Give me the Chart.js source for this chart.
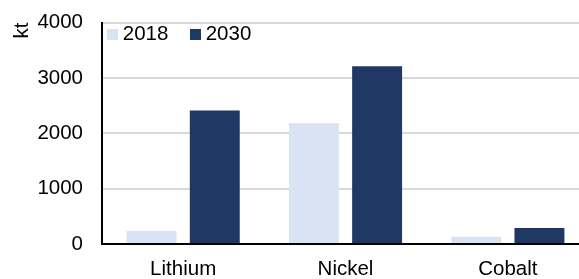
<!DOCTYPE html>
<html><head><meta charset="utf-8">
<script src="https://cdn.jsdelivr.net/npm/chart.js@4/dist/chart.umd.min.js"></script>
<style>html,body{margin:0;padding:0;overflow:hidden;background:#fff;width:579px;height:279px}</style>
</head><body>
<canvas id="c" width="589" height="279" style="display:block;width:589px;height:279px"></canvas>
<script>
const categories = ['Lithium', 'Nickel', 'Cobalt'];
const seriesNames = ['2018', '2030'];
const values2018 = [240, 2180, 130];
const values2030 = [2410, 3210, 290];
const yTicks = [0, 1000, 2000, 3000, 4000];
const yTitle = 'kt';
const colors = ['#dae3f3', '#203864'];

const FONT = "'Liberation Sans', Arial, sans-serif";
const FS = 20.5;

function makeBox(color) {
  const c = document.createElement('canvas');
  c.width = 11; c.height = 11;
  const x = c.getContext('2d');
  x.fillStyle = color; x.fillRect(0, 0, 11, 11);
  return c;
}
const markers = colors.map(makeBox);

const legendPlace = {
  id: 'legendPlace',
  afterLayout(chart) {
    const l = chart.legend;
    if (!l) return;
    const ca = chart.chartArea;
    l.left = ca.left - 16.6;
    l.right = ca.right;
    l.width = l.right - l.left;
    l.top = -3.25;
    l.height = 70;
    l.bottom = l.top + l.height;
  }
};

new Chart(document.getElementById('c'), {
  type: 'bar',
  data: {
    labels: categories,
    datasets: [
      { label: seriesNames[0], data: values2018, backgroundColor: colors[0] },
      { label: seriesNames[1], data: values2030, backgroundColor: colors[1] }
    ]
  },
  plugins: [legendPlace],
  options: {
    responsive: false,
    animation: false,
    devicePixelRatio: 1,
    categoryPercentage: 0.779,
    barPercentage: 0.79,
    layout: { padding: { top: 21.5, right: 0, bottom: 0, left: 0 } },
    plugins: {
      tooltip: { enabled: false },
      legend: {
        position: 'top',
        align: 'start',
        fullSize: false,
        maxHeight: 1,
        labels: {
          usePointStyle: true,
          pointStyleWidth: 0.1,
          padding: 27,
          color: '#000',
          font: { family: FONT, size: FS },
          generateLabels(chart) {
            const items = Chart.defaults.plugins.legend.labels.generateLabels(chart);
            items.forEach((it, i) => { it.pointStyle = markers[i]; });
            return items;
          }
        }
      }
    },
    scales: {
      x: {
        grid: { display: false, drawTicks: false },
        border: { display: true, color: '#000', width: 2 },
        ticks: { color: '#000', font: { family: FONT, size: FS }, padding: 13.5, maxRotation: 0 },
        afterFit(s) { s.height = 35; s.paddingLeft = 0; s.paddingRight = 0; }
      },
      y: {
        min: 0, max: 4000,
        afterBuildTicks(s) { s.ticks = yTicks.map(v => ({ value: v })); },
        grid: { color: '#d9d9d9', lineWidth: 2, drawTicks: false },
        border: { display: true, color: '#000', width: 2 },
        ticks: { color: '#000', font: { family: FONT, size: FS }, padding: 19, callback: v => String(v) },
        title: { display: true, text: yTitle, align: 'end', color: '#000', font: { family: FONT, size: FS }, padding: { top: 10.5, bottom: 0 } },
        afterFit(s) { s.width = 102; s.paddingTop = 0; s.paddingBottom = 0; }
      }
    }
  }
});
</script>
</body></html>
